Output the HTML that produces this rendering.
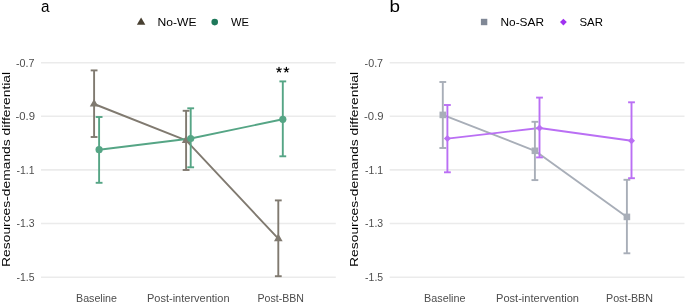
<!DOCTYPE html>
<html><head><meta charset="utf-8"><title>Resources-demands differential</title>
<style>
html,body{margin:0;padding:0;background:#fff;}
body{width:685px;height:302px;overflow:hidden;}
svg{display:block;will-change:transform;}
text{font-family:"Liberation Sans", sans-serif;}
</style></head>
<body>
<svg width="685" height="302" viewBox="0 0 685 302">
<rect width="685" height="302" fill="#fff"/>
<line x1="41" y1="62.7" x2="335.8" y2="62.7" stroke="#ebebeb" stroke-width="1.6"/>
<line x1="41" y1="116.3" x2="335.8" y2="116.3" stroke="#ebebeb" stroke-width="1.6"/>
<line x1="41" y1="169.9" x2="335.8" y2="169.9" stroke="#ebebeb" stroke-width="1.6"/>
<line x1="41" y1="223.5" x2="335.8" y2="223.5" stroke="#ebebeb" stroke-width="1.6"/>
<line x1="41" y1="277.2" x2="335.8" y2="277.2" stroke="#ebebeb" stroke-width="1.6"/>
<line x1="389.7" y1="62.7" x2="684.5" y2="62.7" stroke="#ebebeb" stroke-width="1.6"/>
<line x1="389.7" y1="116.3" x2="684.5" y2="116.3" stroke="#ebebeb" stroke-width="1.6"/>
<line x1="389.7" y1="169.9" x2="684.5" y2="169.9" stroke="#ebebeb" stroke-width="1.6"/>
<line x1="389.7" y1="223.5" x2="684.5" y2="223.5" stroke="#ebebeb" stroke-width="1.6"/>
<line x1="389.7" y1="277.2" x2="684.5" y2="277.2" stroke="#ebebeb" stroke-width="1.6"/>
<polyline points="94.1,104 186.1,140.4 278.3,238.7" fill="none" stroke="#807a70" stroke-width="1.9" stroke-linejoin="round"/>
<polyline points="99.1,149.7 190.7,138.5 282.8,119.3" fill="none" stroke="#55a585" stroke-width="1.9" stroke-linejoin="round"/>
<polyline points="442.8,114.9 534.9,150.8 626.9,216.9" fill="none" stroke="#a8aeb8" stroke-width="1.9" stroke-linejoin="round"/>
<polyline points="447.4,138.6 539.5,128 631.5,140.7" fill="none" stroke="#ba6ff4" stroke-width="1.9" stroke-linejoin="round"/>
<line x1="94.1" y1="70.4" x2="94.1" y2="137" stroke="#807a70" stroke-width="1.9"/>
<line x1="90.7" y1="70.4" x2="97.5" y2="70.4" stroke="#807a70" stroke-width="1.9"/>
<line x1="90.7" y1="137" x2="97.5" y2="137" stroke="#807a70" stroke-width="1.9"/>
<line x1="186.1" y1="110.8" x2="186.1" y2="170" stroke="#807a70" stroke-width="1.9"/>
<line x1="182.7" y1="110.8" x2="189.5" y2="110.8" stroke="#807a70" stroke-width="1.9"/>
<line x1="182.7" y1="170" x2="189.5" y2="170" stroke="#807a70" stroke-width="1.9"/>
<line x1="278.3" y1="200.4" x2="278.3" y2="276.2" stroke="#807a70" stroke-width="1.9"/>
<line x1="274.9" y1="200.4" x2="281.7" y2="200.4" stroke="#807a70" stroke-width="1.9"/>
<line x1="274.9" y1="276.2" x2="281.7" y2="276.2" stroke="#807a70" stroke-width="1.9"/>
<line x1="99.1" y1="117" x2="99.1" y2="182.8" stroke="#55a585" stroke-width="1.9"/>
<line x1="95.7" y1="117" x2="102.5" y2="117" stroke="#55a585" stroke-width="1.9"/>
<line x1="95.7" y1="182.8" x2="102.5" y2="182.8" stroke="#55a585" stroke-width="1.9"/>
<line x1="190.7" y1="108.3" x2="190.7" y2="167.3" stroke="#55a585" stroke-width="1.9"/>
<line x1="187.3" y1="108.3" x2="194.1" y2="108.3" stroke="#55a585" stroke-width="1.9"/>
<line x1="187.3" y1="167.3" x2="194.1" y2="167.3" stroke="#55a585" stroke-width="1.9"/>
<line x1="282.8" y1="81.4" x2="282.8" y2="156.3" stroke="#55a585" stroke-width="1.9"/>
<line x1="279.4" y1="81.4" x2="286.2" y2="81.4" stroke="#55a585" stroke-width="1.9"/>
<line x1="279.4" y1="156.3" x2="286.2" y2="156.3" stroke="#55a585" stroke-width="1.9"/>
<line x1="442.8" y1="82" x2="442.8" y2="148" stroke="#a8aeb8" stroke-width="1.9"/>
<line x1="439.4" y1="82" x2="446.2" y2="82" stroke="#a8aeb8" stroke-width="1.9"/>
<line x1="439.4" y1="148" x2="446.2" y2="148" stroke="#a8aeb8" stroke-width="1.9"/>
<line x1="534.9" y1="121.8" x2="534.9" y2="180.1" stroke="#a8aeb8" stroke-width="1.9"/>
<line x1="531.5" y1="121.8" x2="538.3" y2="121.8" stroke="#a8aeb8" stroke-width="1.9"/>
<line x1="531.5" y1="180.1" x2="538.3" y2="180.1" stroke="#a8aeb8" stroke-width="1.9"/>
<line x1="626.9" y1="179.8" x2="626.9" y2="253.3" stroke="#a8aeb8" stroke-width="1.9"/>
<line x1="623.5" y1="179.8" x2="630.3" y2="179.8" stroke="#a8aeb8" stroke-width="1.9"/>
<line x1="623.5" y1="253.3" x2="630.3" y2="253.3" stroke="#a8aeb8" stroke-width="1.9"/>
<line x1="447.4" y1="105" x2="447.4" y2="172.3" stroke="#ba6ff4" stroke-width="1.9"/>
<line x1="444" y1="105" x2="450.8" y2="105" stroke="#ba6ff4" stroke-width="1.9"/>
<line x1="444" y1="172.3" x2="450.8" y2="172.3" stroke="#ba6ff4" stroke-width="1.9"/>
<line x1="539.5" y1="97.6" x2="539.5" y2="157.4" stroke="#ba6ff4" stroke-width="1.9"/>
<line x1="536.1" y1="97.6" x2="542.9" y2="97.6" stroke="#ba6ff4" stroke-width="1.9"/>
<line x1="536.1" y1="157.4" x2="542.9" y2="157.4" stroke="#ba6ff4" stroke-width="1.9"/>
<line x1="631.5" y1="102.3" x2="631.5" y2="178.2" stroke="#ba6ff4" stroke-width="1.9"/>
<line x1="628.1" y1="102.3" x2="634.9" y2="102.3" stroke="#ba6ff4" stroke-width="1.9"/>
<line x1="628.1" y1="178.2" x2="634.9" y2="178.2" stroke="#ba6ff4" stroke-width="1.9"/>
<polygon points="94.1,99 98.43,106.5 89.77,106.5" fill="#807a70"/>
<polygon points="186.1,135.4 190.43,142.9 181.77,142.9" fill="#807a70"/>
<polygon points="278.3,233.7 282.63,241.2 273.97,241.2" fill="#807a70"/>
<circle cx="99.1" cy="149.7" r="3.6" fill="#55a585"/>
<circle cx="190.7" cy="138.5" r="3.6" fill="#55a585"/>
<circle cx="282.8" cy="119.3" r="3.6" fill="#55a585"/>
<rect x="439.5" y="111.6" width="6.6" height="6.6" fill="#a8aeb8"/>
<rect x="531.6" y="147.5" width="6.6" height="6.6" fill="#a8aeb8"/>
<rect x="623.6" y="213.6" width="6.6" height="6.6" fill="#a8aeb8"/>
<polygon points="447.4,135.1 450.9,138.6 447.4,142.1 443.9,138.6" fill="#ba6ff4"/>
<polygon points="539.5,124.5 543,128 539.5,131.5 536,128" fill="#ba6ff4"/>
<polygon points="631.5,137.2 635,140.7 631.5,144.2 628,140.7" fill="#ba6ff4"/>
<path d="M279 69.8L279 67.3M279 69.8L281.38 69.03M279 69.8L280.47 71.82M279 69.8L277.53 71.82M279 69.8L276.62 69.03" stroke="#000" stroke-width="1.2" stroke-linecap="round" fill="none"/>
<path d="M286.4 69.8L286.4 67.3M286.4 69.8L288.78 69.03M286.4 69.8L287.87 71.82M286.4 69.8L284.93 71.82M286.4 69.8L284.02 69.03" stroke="#000" stroke-width="1.2" stroke-linecap="round" fill="none"/>
<text x="41" y="12.4" font-size="16.8" fill="#000" textLength="8.5" lengthAdjust="spacingAndGlyphs">a</text>
<text x="389.5" y="12" font-size="16.8" fill="#000" textLength="10.5" lengthAdjust="spacingAndGlyphs">b</text>
<text x="76" y="301.8" font-size="10.5" fill="#4d4d4d" textLength="41.0" lengthAdjust="spacingAndGlyphs">Baseline</text>
<text x="147" y="301.8" font-size="10.5" fill="#4d4d4d" textLength="82.5" lengthAdjust="spacingAndGlyphs">Post-intervention</text>
<text x="257.5" y="301.8" font-size="10.5" fill="#4d4d4d" textLength="46.5" lengthAdjust="spacingAndGlyphs">Post-BBN</text>
<text x="424" y="301.8" font-size="10.5" fill="#4d4d4d" textLength="41.5" lengthAdjust="spacingAndGlyphs">Baseline</text>
<text x="496" y="301.8" font-size="10.5" fill="#4d4d4d" textLength="83.0" lengthAdjust="spacingAndGlyphs">Post-intervention</text>
<text x="606" y="301.8" font-size="10.5" fill="#4d4d4d" textLength="47.0" lengthAdjust="spacingAndGlyphs">Post-BBN</text>
<text x="16" y="66.5" font-size="10.2" fill="#4d4d4d" textLength="18.5" lengthAdjust="spacingAndGlyphs">-0.7</text>
<text x="15.5" y="119.9" font-size="10.2" fill="#4d4d4d" textLength="19.5" lengthAdjust="spacingAndGlyphs">-0.9</text>
<text x="16.5" y="173.6" font-size="10.2" fill="#4d4d4d" textLength="18.0" lengthAdjust="spacingAndGlyphs">-1.1</text>
<text x="16.5" y="227.3" font-size="10.2" fill="#4d4d4d" textLength="18.0" lengthAdjust="spacingAndGlyphs">-1.3</text>
<text x="16.5" y="281" font-size="10.2" fill="#4d4d4d" textLength="18.0" lengthAdjust="spacingAndGlyphs">-1.5</text>
<text transform="translate(9.9,266.9) rotate(-90)" font-size="11.8" fill="#000" textLength="195.0" lengthAdjust="spacingAndGlyphs">Resources-demands differential</text>
<text x="364.6" y="66.5" font-size="10.2" fill="#4d4d4d" textLength="18.5" lengthAdjust="spacingAndGlyphs">-0.7</text>
<text x="364.1" y="119.9" font-size="10.2" fill="#4d4d4d" textLength="19.5" lengthAdjust="spacingAndGlyphs">-0.9</text>
<text x="365.1" y="173.6" font-size="10.2" fill="#4d4d4d" textLength="18.0" lengthAdjust="spacingAndGlyphs">-1.1</text>
<text x="365.1" y="227.3" font-size="10.2" fill="#4d4d4d" textLength="18.0" lengthAdjust="spacingAndGlyphs">-1.3</text>
<text x="365.1" y="281" font-size="10.2" fill="#4d4d4d" textLength="18.0" lengthAdjust="spacingAndGlyphs">-1.5</text>
<text transform="translate(358.1,266.9) rotate(-90)" font-size="11.8" fill="#000" textLength="195.0" lengthAdjust="spacingAndGlyphs">Resources-demands differential</text>
<polygon points="141.1,17.5 145.34,24.85 136.86,24.85" fill="#484032"/>
<text x="157.5" y="26.2" font-size="11.4" fill="#000" textLength="39.0" lengthAdjust="spacingAndGlyphs">No-WE</text>
<circle cx="214.7" cy="22.1" r="3.3" fill="#1e785a"/>
<text x="231" y="26.2" font-size="11.4" fill="#000" textLength="18.0" lengthAdjust="spacingAndGlyphs">WE</text>
<rect x="480.9" y="18.8" width="6.4" height="6.4" fill="#808896"/>
<text x="500.5" y="26.2" font-size="11.4" fill="#000" textLength="43.5" lengthAdjust="spacingAndGlyphs">No-SAR</text>
<polygon points="563.4,18.7 566.8,22.1 563.4,25.5 560,22.1" fill="#a032f0"/>
<text x="579.5" y="26.2" font-size="11.4" fill="#000" textLength="23.5" lengthAdjust="spacingAndGlyphs">SAR</text>
</svg>
</body></html>
